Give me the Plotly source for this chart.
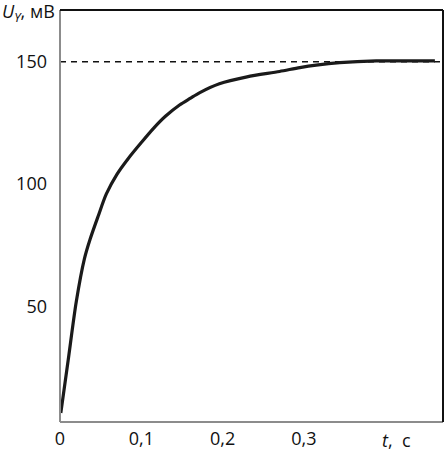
import plotly.graph_objects as go

t_values = [0.001, 0.010, 0.020, 0.030, 0.037, 0.047, 0.057, 0.070, 0.084, 0.100, 0.115,
            0.130, 0.147, 0.160, 0.172, 0.196, 0.230, 0.270, 0.295, 0.315, 0.344, 0.389, 0.461]
u_values = [6.6, 28.0, 52.0, 69.5, 77.5, 87.0, 96.0, 104.0, 110.5, 117.0, 122.8,
            127.8, 132.3, 135.0, 137.4, 141.0, 143.8, 146.0, 147.6, 148.6, 149.6, 150.3, 150.3]
u_steady = 150
x_ticks = [0, 0.1, 0.2, 0.3]
x_tick_labels = ["0", "0,1", "0,2", "0,3"]
y_ticks = [50, 100, 150]
y_tick_labels = ["50", "100", "150"]
x_range = [0, 0.471]
y_range = [2.9, 171.1]

font = "Open Sans, Liberation Sans, sans-serif"

fig = go.Figure()
fig.add_trace(go.Scatter(
    x=x_range, y=[u_steady, u_steady], mode="lines",
    line=dict(color="#111111", width=1.6, dash="6px,5px"),
    hoverinfo="skip", showlegend=False, cliponaxis=False,
))
fig.add_trace(go.Scatter(
    x=t_values, y=u_values, mode="lines",
    line=dict(color="#1a1a1a", width=3.2, shape="spline", smoothing=0.8),
    showlegend=False,
))

fig.update_layout(
    template="none",
    width=445, height=453,
    margin=dict(l=60, r=2, t=10, b=31, autoexpand=False),
    paper_bgcolor="white", plot_bgcolor="white",
    font=dict(family=font, size=18, color="#111111"),
    xaxis=dict(range=x_range, tickvals=x_ticks, ticktext=x_tick_labels,
               showgrid=False, zeroline=False, showline=False, ticks="",
               automargin=False, ticklabelstandoff=4),
    yaxis=dict(range=y_range, tickvals=y_ticks, ticktext=y_tick_labels,
               showgrid=False, zeroline=False, showline=False, ticks="",
               automargin=False, ticklabelstandoff=12),
    shapes=[
        dict(type="line", xref="paper", yref="paper", x0=0, x1=0, y0=0, y1=1,
             line=dict(color="#8c8c8c", width=2)),
        dict(type="line", xref="paper", yref="paper", x0=0, x1=1, y0=0, y1=0,
             line=dict(color="#8c8c8c", width=2)),
        dict(type="line", xref="paper", yref="paper", x0=0, x1=1, y0=1, y1=1,
             line=dict(color="#111111", width=2)),
        dict(type="line", xref="paper", yref="paper", x0=1, x1=1, y0=0, y1=1,
             line=dict(color="#111111", width=2)),
    ],
    annotations=[
        dict(text="<i>U</i><sub><i>Y</i></sub>, мВ", xref="paper", yref="paper",
             x=-0.157, y=1.0, xanchor="left", yanchor="middle", yshift=-2,
             showarrow=False, font=dict(family=font, size=18, color="#111111")),
        dict(text="<i>t</i>,\u00a0\u00a0с", xref="paper", yref="paper",
             x=0.835, y=0, xanchor="left", yanchor="top", yshift=-4,
             showarrow=False, font=dict(family=font, size=18, color="#111111")),
    ],
)

fig.write_html("out.html",
               config={"displayModeBar": False},
               post_script="document.body.style.margin='0';document.body.style.overflow='hidden';")
